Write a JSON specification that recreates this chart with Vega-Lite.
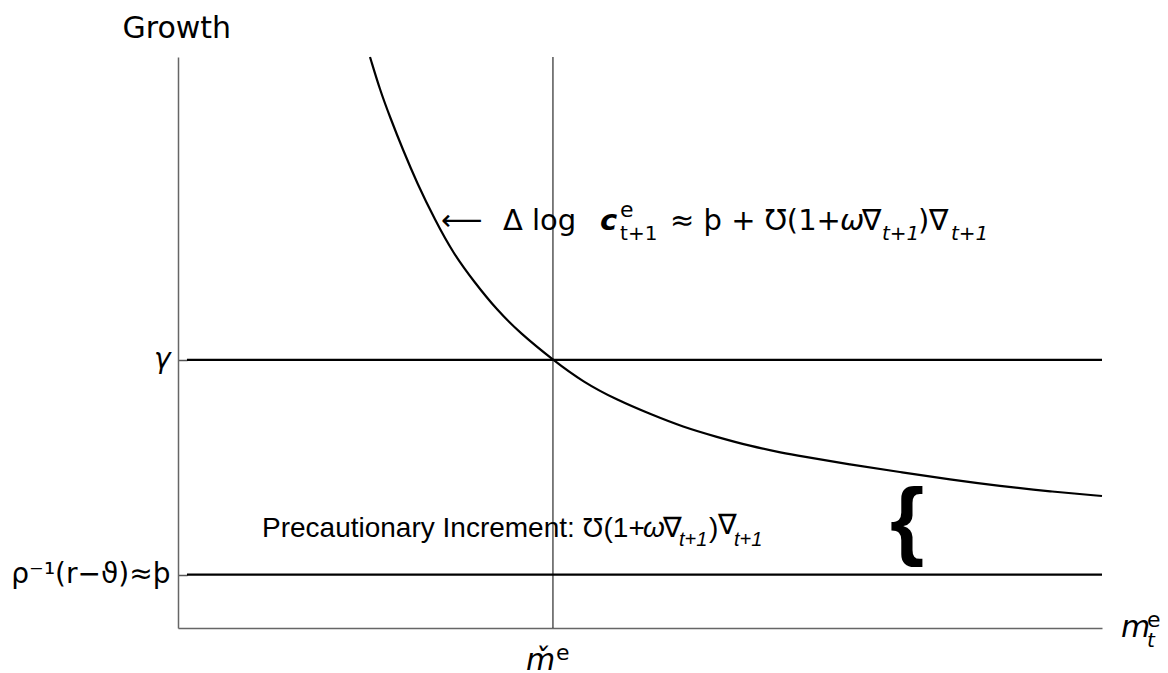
{
  "$schema": "https://vega.github.io/schema/vega-lite/v6.json",
  "width": 924,
  "height": 571,
  "autosize": {"type": "none"},
  "padding": {"left": 178, "top": 57, "right": 66, "bottom": 45},
  "background": "white",
  "config": {"view": {"stroke": null}, "axis": {"grid": false}},
  "datasets": {
    "curve": [
      {"x": 2.078, "y": 10.0}, {"x": 2.186, "y": 9.422}, {"x": 2.294, "y": 8.949}, {"x": 2.435, "y": 8.371},
      {"x": 2.587, "y": 7.793}, {"x": 2.781, "y": 7.145}, {"x": 2.976, "y": 6.567}, {"x": 3.214, "y": 6.042},
      {"x": 3.452, "y": 5.569}, {"x": 3.701, "y": 5.166}, {"x": 4.058, "y": 4.694}, {"x": 4.383, "y": 4.308},
      {"x": 4.751, "y": 3.993}, {"x": 5.108, "y": 3.748}, {"x": 5.465, "y": 3.52}, {"x": 5.833, "y": 3.345},
      {"x": 6.19, "y": 3.187}, {"x": 6.548, "y": 3.065}, {"x": 6.732, "y": 3.012}, {"x": 7.273, "y": 2.863},
      {"x": 7.814, "y": 2.732}, {"x": 8.355, "y": 2.601}, {"x": 8.896, "y": 2.487}, {"x": 9.437, "y": 2.391},
      {"x": 10.0, "y": 2.312}
    ],
    "hlines": [
      {"x": 0.097, "x2": 10, "y": 4.694},
      {"x": 0.097, "x2": 10, "y": 0.935}
    ],
    "vline": [{"x": 4.058, "y": 0, "y2": 10}],
    "mainText": [
      {"x": 2.846, "y": 6.97, "text": "⟵"},
      {"x": 3.517, "y": 6.97, "text": "Δ log"},
      {"x": 5.325, "y": 6.97, "text": "≈ þ + Ʊ(1+"},
      {"x": 7.403, "y": 6.97, "text": "∇"},
      {"x": 8.009, "y": 6.97, "text": ")"},
      {"x": 8.128, "y": 6.97, "text": "∇"}
    ],
    "italicText": [{"x": 7.165, "y": 6.97, "text": "ω"}],
    "boldItalic": [{"x": 4.567, "y": 6.97, "text": "c"}],
    "supText": [
      {"x": 4.784, "y": 7.198, "text": "e"},
      {"x": 4.091, "y": -0.56, "text": "e"},
      {"x": 10.487, "y": 0.018, "text": "e"}
    ],
    "subUpright": [{"x": 4.784, "y": 6.795, "text": "t+1"}],
    "subItalic": [
      {"x": 7.619, "y": 6.795, "text": "t+1"},
      {"x": 8.366, "y": 6.795, "text": "t+1"},
      {"x": 10.487, "y": -0.333, "text": "t"}
    ],
    "precMain": [
      {"x": 0.909, "y": 1.594, "text": "Precautionary Increment: Ʊ(1+"},
      {"x": 5.249, "y": 1.594, "text": "∇"},
      {"x": 5.747, "y": 1.594, "text": ")"},
      {"x": 5.844, "y": 1.646, "text": "∇"}
    ],
    "precItalic": [{"x": 5.033, "y": 1.594, "text": "ω"}],
    "precSub": [
      {"x": 5.422, "y": 1.436, "text": "t+1"},
      {"x": 6.017, "y": 1.436, "text": "t+1"}
    ],
    "brace": [{"x": 7.706, "y": 1.384, "text": "{"}],
    "axisSym": [
      {"x": 3.766, "y": -0.736, "text": "m\u030c"},
      {"x": 10.206, "y": -0.158, "text": "m"}
    ]
  },
  "encoding": {
    "x": {"field": "x", "type": "quantitative", "scale": {"domain": [0, 10], "nice": false, "zero": false},
      "axis": {"ticks": false, "labels": false, "title": null, "domainColor": "#666", "domainWidth": 1.5, "grid": false}},
    "y": {"field": "y", "type": "quantitative", "scale": {"domain": [0, 10], "nice": false, "zero": false},
      "axis": {
        "values": [0.935, 4.694],
        "labelExpr": "datum.value > 4 ? 'γ' : 'ρ⁻¹(r−ϑ)≈þ'",
        "labelFont": "DejaVu Sans",
        "labelFontSize": 28,
        "labelColor": "black",
        "labelFontStyle": {"condition": {"test": "datum.value > 4", "value": "italic"}, "value": "normal"},
        "labelPadding": 17,
        "labelOverlap": false,
        "labelFlush": false,
        "tickSize": -9,
        "tickWidth": 1.5,
        "tickColor": "#555",
        "domainColor": "#666",
        "domainWidth": 1.5,
        "grid": false,
        "title": "Growth",
        "titleAngle": 0,
        "titleAlign": "left",
        "titleBaseline": "alphabetic",
        "titleX": -56,
        "titleY": -20,
        "titleFont": "DejaVu Sans",
        "titleFontSize": 30,
        "titleFontWeight": "normal",
        "titleColor": "black"
      }}
  },
  "layer": [
    {
      "data": {"name": "curve"},
      "mark": {"type": "line", "color": "black", "strokeWidth": 2.2, "interpolate": "basis"}
    },
    {
      "data": {"name": "hlines"},
      "mark": {"type": "rule", "color": "black", "strokeWidth": 2.2},
      "encoding": {"x2": {"field": "x2"}}
    },
    {
      "data": {"name": "vline"},
      "mark": {"type": "rule", "color": "black", "strokeWidth": 1},
      "encoding": {"y2": {"field": "y2"}}
    },
    {
      "data": {"name": "mainText"},
      "mark": {"type": "text", "align": "left", "baseline": "alphabetic", "font": "DejaVu Sans", "fontSize": 29, "color": "black"},
      "encoding": {"text": {"field": "text"}}
    },
    {
      "data": {"name": "italicText"},
      "mark": {"type": "text", "align": "left", "baseline": "alphabetic", "font": "DejaVu Sans", "fontStyle": "italic", "fontSize": 29, "color": "black"},
      "encoding": {"text": {"field": "text"}}
    },
    {
      "data": {"name": "boldItalic"},
      "mark": {"type": "text", "align": "left", "baseline": "alphabetic", "font": "DejaVu Sans", "fontStyle": "italic", "fontWeight": "bold", "fontSize": 29, "color": "black"},
      "encoding": {"text": {"field": "text"}}
    },
    {
      "data": {"name": "supText"},
      "mark": {"type": "text", "align": "left", "baseline": "alphabetic", "font": "DejaVu Sans", "fontSize": 22, "color": "black"},
      "encoding": {"text": {"field": "text"}}
    },
    {
      "data": {"name": "subUpright"},
      "mark": {"type": "text", "align": "left", "baseline": "alphabetic", "font": "DejaVu Sans", "fontSize": 20, "color": "black"},
      "encoding": {"text": {"field": "text"}}
    },
    {
      "data": {"name": "subItalic"},
      "mark": {"type": "text", "align": "left", "baseline": "alphabetic", "font": "DejaVu Sans", "fontStyle": "italic", "fontSize": 20, "color": "black"},
      "encoding": {"text": {"field": "text"}}
    },
    {
      "data": {"name": "precMain"},
      "mark": {"type": "text", "align": "left", "baseline": "alphabetic", "font": "Liberation Sans", "fontSize": 28, "color": "black"},
      "encoding": {"text": {"field": "text"}}
    },
    {
      "data": {"name": "precItalic"},
      "mark": {"type": "text", "align": "left", "baseline": "alphabetic", "font": "Liberation Sans", "fontStyle": "italic", "fontSize": 28, "color": "black"},
      "encoding": {"text": {"field": "text"}}
    },
    {
      "data": {"name": "precSub"},
      "mark": {"type": "text", "align": "left", "baseline": "alphabetic", "font": "Liberation Sans", "fontStyle": "italic", "fontSize": 20, "color": "black"},
      "encoding": {"text": {"field": "text"}}
    },
    {
      "data": {"name": "brace"},
      "mark": {"type": "text", "align": "left", "baseline": "alphabetic", "font": "Liberation Sans", "fontWeight": "bold", "fontSize": 88, "color": "black"},
      "encoding": {"text": {"field": "text"}}
    },
    {
      "data": {"name": "axisSym"},
      "mark": {"type": "text", "align": "left", "baseline": "alphabetic", "font": "DejaVu Sans", "fontStyle": "italic", "fontSize": 30, "color": "black"},
      "encoding": {"text": {"field": "text"}}
    }
  ]
}
